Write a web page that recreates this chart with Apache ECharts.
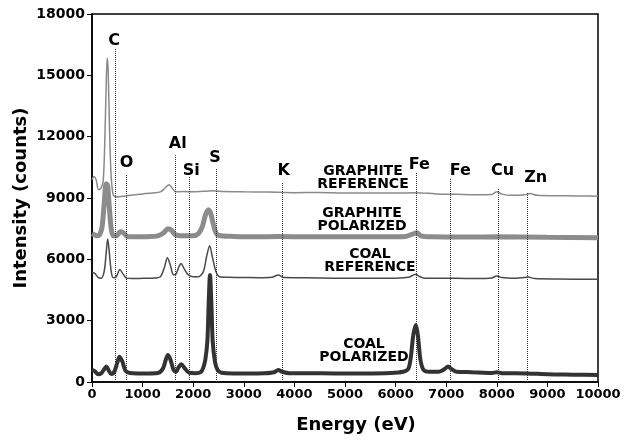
<!DOCTYPE html>
<html>
<head>
<meta charset="utf-8">
<script src="https://cdn.jsdelivr.net/npm/echarts@6/dist/echarts.min.js"></script>
<style>
  html, body { margin: 0; padding: 0; background: #fff; }
  #chart { width: 625px; height: 444px; }
</style>
</head>
<body>
<div id="chart"></div>
<script>
// X-ray fluorescence spectra: energy (eV) vs intensity (counts), stacked with offsets.

const graphiteReference = [
  [0, 9900], [40, 10050], [80, 9900], [130, 9400], [180, 9500], [220, 9800],
  [250, 11500], [280, 14500], [300, 15850], [320, 15200], [350, 12000], [380, 10000],
  [420, 9150], [480, 9050], [600, 9080], [800, 9150], [1000, 9200], [1200, 9250],
  [1350, 9300], [1450, 9500], [1520, 9650], [1580, 9500], [1650, 9300], [1800, 9320],
  [2000, 9300], [2200, 9330], [2400, 9350], [2600, 9320], [3000, 9300], [3500, 9290],
  [4000, 9260], [4500, 9270], [5000, 9240], [5500, 9250], [6000, 9240], [6400, 9260],
  [6800, 9200], [7200, 9180], [7600, 9160], [7900, 9170], [8000, 9300], [8100, 9190],
  [8300, 9130], [8550, 9160], [8650, 9220], [8800, 9130], [9200, 9110], [9600, 9100],
  [10000, 9090]
];

const graphitePolarized = [
  [0, 7250], [50, 7200], [100, 7150], [150, 7200], [200, 7600], [240, 8700],
  [280, 9700], [310, 9600], [340, 8600], [380, 7500], [420, 7150], [480, 7150],
  [560, 7350], [620, 7300], [700, 7120], [900, 7100], [1100, 7110], [1300, 7150],
  [1420, 7300], [1500, 7500], [1560, 7450], [1650, 7200], [1800, 7150], [2000, 7150],
  [2100, 7250], [2180, 7600], [2240, 8150], [2300, 8420], [2340, 8300], [2400, 7700],
  [2460, 7250], [2550, 7150], [2800, 7120], [3200, 7100], [3700, 7120], [4200, 7100],
  [5000, 7100], [5800, 7100], [6200, 7120], [6350, 7250], [6420, 7300], [6500, 7150],
  [6700, 7100], [7500, 7090], [8000, 7100], [9000, 7080], [10000, 7060]
];

const coalReference = [
  [0, 5380], [60, 5300], [120, 5120], [180, 5080], [240, 5400], [280, 6300],
  [310, 7000], [340, 6400], [380, 5400], [420, 5100], [480, 5150], [550, 5500],
  [610, 5300], [680, 5080], [800, 5060], [1000, 5070], [1200, 5080], [1350, 5150],
  [1430, 5600], [1490, 6080], [1550, 5700], [1610, 5250], [1660, 5280], [1720, 5650],
  [1760, 5800], [1820, 5550], [1900, 5250], [2000, 5150], [2100, 5150], [2200, 5400],
  [2270, 6200], [2325, 6670], [2380, 6100], [2450, 5400], [2520, 5150], [2700, 5120],
  [3000, 5110], [3300, 5100], [3550, 5120], [3680, 5230], [3800, 5110], [4200, 5100],
  [4800, 5080], [5400, 5070], [6000, 5080], [6250, 5120], [6350, 5230], [6400, 5270],
  [6460, 5180], [6550, 5090], [6800, 5070], [7200, 5070], [7600, 5060], [7900, 5090],
  [8000, 5180], [8100, 5110], [8300, 5070], [8550, 5110], [8620, 5130], [8750, 5060],
  [9200, 5040], [10000, 5020]
];

const coalPolarized = [
  [0, 600], [60, 520], [120, 380], [180, 420], [240, 620], [285, 760],
  [330, 560], [380, 390], [440, 500], [500, 950], [545, 1240], [600, 1000],
  [660, 560], [750, 440], [900, 420], [1100, 420], [1300, 440], [1400, 650],
  [1460, 1100], [1500, 1320], [1550, 1100], [1610, 600], [1660, 500], [1710, 720],
  [1765, 870], [1830, 680], [1920, 450], [2050, 430], [2150, 480], [2200, 700],
  [2240, 1100], [2280, 2000], [2305, 3800], [2332, 5230], [2360, 3800], [2385, 2000],
  [2430, 1000], [2480, 600], [2560, 450], [2800, 420], [3100, 420], [3400, 430],
  [3600, 480], [3680, 590], [3760, 500], [3900, 430], [4300, 430], [4800, 420],
  [5400, 420], [5900, 440], [6150, 500], [6250, 640], [6300, 1200], [6350, 2300],
  [6400, 2790], [6440, 2300], [6490, 1100], [6550, 600], [6650, 500], [6850, 500],
  [6960, 620], [7040, 760], [7100, 640], [7200, 500], [7500, 480], [7900, 440],
  [8000, 480], [8100, 430], [8600, 420], [9000, 380], [9500, 360], [10000, 340]
];

// Emission-line markers: element, energy (eV), marker height (counts)
const elementNames = ['C', 'O', 'Al', 'Si', 'S', 'K', 'Fe', 'Fe', 'Cu', 'Zn'];
const elementEnergies = [455, 685, 1654, 1923, 2451, 3768, 6409, 7081, 8037, 8610];
const elementHeights = [16340, 10170, 11100, 10030, 10470, 9780, 10220, 9980, 9490, 9290];

const spectrumTitles = ['GRAPHITE\nREFERENCE', 'GRAPHITE\nPOLARIZED', 'COAL\nREFERENCE', 'COAL\nPOLARIZED'];

const xTicks = { min: 0, max: 10000, interval: 1000 };
const yTicks = { min: 0, max: 18000, interval: 3000 };

const FONT = 'DejaVu Sans';

// label nudges for the element symbols (pixels)
const symbolNudge = [[-1, 1], [0, -3], [2, -3], [2, 2], [-1, -2], [1, -3], [3, 0], [10, 1], [4, -9], [8, -6]];

// anchors for the spectrum titles, in data units
const titleAnchors = [[5356, 9980], [5336, 7924], [5494, 5918], [5375, 1516]];

function titleMarker(i) {
  return {
    silent: true,
    symbol: 'rect',
    symbolSize: 1,
    itemStyle: { color: 'rgba(0,0,0,0)' },
    label: {
      show: true,
      position: 'inside',
      formatter: spectrumTitles[i],
      color: '#000',
      fontFamily: FONT,
      fontWeight: 'bold',
      fontSize: 14,
      lineHeight: 13,
      align: 'center'
    },
    data: [{ coord: titleAnchors[i], value: 0 }]
  };
}

const plainNumber = v => String(v);

const chart = echarts.init(document.getElementById('chart'), null, { renderer: 'canvas' });

chart.setOption({
  animation: false,
  backgroundColor: '#fff',
  grid: {
    left: 92, right: 27, top: 14, bottom: 62,
    outerBoundsMode: 'none',
    containLabel: false,
    show: true, borderColor: '#000', borderWidth: 1.5, backgroundColor: 'transparent'
  },
  xAxis: {
    type: 'value',
    min: xTicks.min, max: xTicks.max, interval: xTicks.interval,
    name: 'Energy (eV)',
    nameLocation: 'middle',
    nameGap: 34,
    nameMoveOverlap: false,
    nameTextStyle: { fontFamily: FONT, fontWeight: 'bold', fontSize: 18, color: '#000', padding: [0, 0, 0, 22] },
    axisLine: { show: true, lineStyle: { color: '#000', width: 1.5 } },
    axisTick: { show: true, length: 5, lineStyle: { color: '#000', width: 1 } },
    axisLabel: { fontFamily: FONT, fontWeight: 'bold', fontSize: 13, color: '#000', margin: 6, formatter: plainNumber },
    splitLine: { show: false }
  },
  yAxis: {
    type: 'value',
    min: yTicks.min, max: yTicks.max, interval: yTicks.interval,
    name: 'Intensity (counts)',
    nameLocation: 'middle',
    nameGap: 62,
    nameMoveOverlap: false,
    nameTextStyle: { fontFamily: FONT, fontWeight: 'bold', fontSize: 18, color: '#000' },
    axisLine: { show: true, lineStyle: { color: '#000', width: 1.5 } },
    axisTick: { show: true, length: 5, lineStyle: { color: '#000', width: 1 } },
    axisLabel: { fontFamily: FONT, fontWeight: 'bold', fontSize: 14, color: '#000', margin: 7, formatter: plainNumber },
    splitLine: { show: false }
  },
  series: [
    {
      // carrier for the dotted element markers
      type: 'line',
      z: 1,
      data: [[0, 0]],
      showSymbol: false,
      symbol: 'none',
      lineStyle: { width: 0, opacity: 0 },
      silent: true,
      markLine: {
        silent: true,
        symbol: 'none',
        animation: false,
        lineStyle: { type: 'dotted', color: '#333', width: 1 },
        label: {
          show: true,
          position: 'end',
          distance: 0,
          formatter: '{b}',
          fontFamily: FONT,
          fontWeight: 'bold',
          fontSize: 16,
          color: '#000'
        },
        emphasis: { disabled: true },
        data: elementNames.map((name, i) => [
          { coord: [elementEnergies[i], 0] },
          { coord: [elementEnergies[i], elementHeights[i]], name: name, label: { offset: symbolNudge[i] } }
        ])
      }
    },
    {
      name: 'Graphite reference',
      type: 'line',
      z: 3,
      data: graphiteReference,
      showSymbol: false,
      symbol: 'none',
      smooth: 0.3,
      lineStyle: { color: '#8a8a8a', width: 1.5 },
      markPoint: titleMarker(0)
    },
    {
      name: 'Graphite polarized',
      type: 'line',
      z: 3,
      data: graphitePolarized,
      showSymbol: false,
      symbol: 'none',
      smooth: 0.3,
      lineStyle: { color: '#8c8c8c', width: 5 },
      markPoint: titleMarker(1)
    },
    {
      name: 'Coal reference',
      type: 'line',
      z: 3,
      data: coalReference,
      showSymbol: false,
      symbol: 'none',
      smooth: 0.3,
      lineStyle: { color: '#4a4a4a', width: 1.5 },
      markPoint: titleMarker(2)
    },
    {
      name: 'Coal polarized',
      type: 'line',
      z: 3,
      data: coalPolarized,
      showSymbol: false,
      symbol: 'none',
      smooth: 0.3,
      lineStyle: { color: '#333', width: 4 },
      markPoint: titleMarker(3)
    }
  ]
});
</script>
</body>
</html>
